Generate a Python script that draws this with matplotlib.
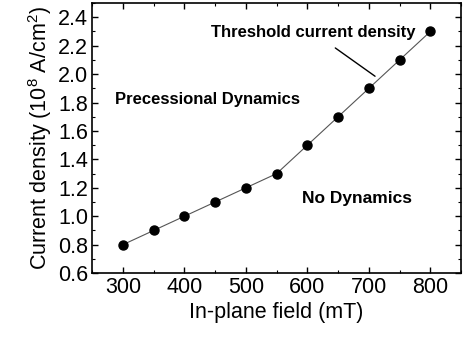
import matplotlib
matplotlib.use("Agg")
import matplotlib.pyplot as plt
from matplotlib.ticker import MultipleLocator

plt.rcParams['font.family'] = ['Liberation Sans', 'DejaVu Sans']
plt.rcParams['mathtext.fontset'] = 'custom'
plt.rcParams['mathtext.rm'] = 'Liberation Sans'

# dane
pole = [300, 350, 400, 450, 500, 550, 600, 650, 700, 750, 800]
gestosc = [0.8, 0.9, 1.0, 1.1, 1.2, 1.3, 1.5, 1.7, 1.9, 2.1, 2.3]

fig = plt.figure(figsize=(4.63, 3.38), dpi=100)
ax = fig.add_axes([0.199, 0.192, 0.797, 0.799])

ax.plot(pole, gestosc, '-', color='#555555', lw=0.8,
        marker='o', markersize=6.5, markerfacecolor='black', markeredgecolor='black')

ax.set_xlim(250, 850)
ax.set_ylim(0.6, 2.5)
ax.xaxis.set_major_locator(MultipleLocator(100))
ax.xaxis.set_minor_locator(MultipleLocator(50))
ax.yaxis.set_minor_locator(MultipleLocator(0.1))
ax.set_yticks([0.6, 0.8, 1.0, 1.2, 1.4, 1.6, 1.8, 2.0, 2.2, 2.4])
ax.tick_params(which='both', direction='in', top=True, right=True)
ax.tick_params(which='major', length=4, width=1, labelsize=15.5, pad=3)
ax.tick_params(which='minor', length=2.5, width=0.8)
for s in ax.spines.values():
    s.set_linewidth(1.2)

ax.set_xlabel('In-plane field (mT)', fontsize=15.5, labelpad=3)
ax.set_ylabel('Current density (10$^8$ A/cm$^2$)', fontsize=15.5, labelpad=3)

ax.annotate('Threshold current density', xy=(710, 1.985), xytext=(609, 2.296),
            ha='center', va='center', fontsize=12, fontweight='bold',
            arrowprops=dict(arrowstyle='-', color='black', lw=1,
                            shrinkA=7, shrinkB=0))
ax.text(438, 1.82, 'Precessional Dynamics', ha='center', va='center',
        fontsize=12, fontweight='bold')
ax.text(681, 1.124, 'No Dynamics', ha='center', va='center',
        fontsize=12.5, fontweight='bold')

fig.savefig('out.png', dpi=100)
